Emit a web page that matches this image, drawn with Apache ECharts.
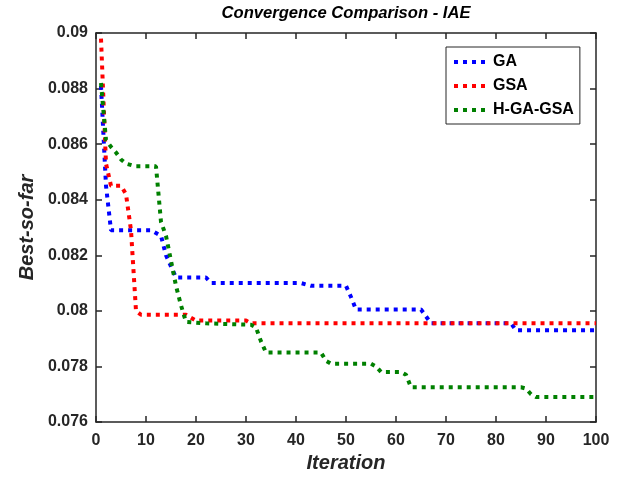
<!DOCTYPE html>
<html>
<head>
<meta charset="utf-8">
<script src="https://cdn.jsdelivr.net/npm/echarts@6/dist/echarts.min.js"></script>
<style>
  html, body { margin: 0; padding: 0; background: #fff; }
  #chart { width: 619px; height: 482px; }
</style>
</head>
<body>
<div id="chart"></div>
<script>
// breakpoints (iteration, best-so-far)
var gaIter = [1, 2, 3, 11, 12, 13, 14, 15, 16, 22, 23, 41, 42, 43, 50, 51, 52, 65, 66, 67, 83, 84, 100];
var gaVal = [0.0881, 0.0845, 0.0829, 0.0829, 0.0828, 0.0827, 0.0820, 0.0816, 0.0812, 0.0812, 0.0810, 0.0810,
  0.08095, 0.0809, 0.0809, 0.0805, 0.08005, 0.08005, 0.0798, 0.07955, 0.07955, 0.0793, 0.0793];

var gsaIter = [1, 2, 3, 5, 6, 7, 8, 9, 18, 19, 20, 30, 31, 100];
var gsaVal = [0.0898, 0.0853, 0.0845, 0.0845, 0.0842, 0.0829, 0.0800, 0.07986, 0.07986, 0.07975, 0.07965,
  0.07965, 0.07955, 0.07955];

var hybIter = [1, 2, 3, 4, 5, 6, 8, 12, 13, 14, 15, 16, 17, 18, 22, 31, 32, 33, 34, 45, 46, 47, 54, 55, 56, 57,
  61, 62, 63, 85, 86, 87, 88, 100];
var hybVal = [0.0882, 0.08615, 0.0859, 0.0857, 0.08545, 0.0853, 0.0852, 0.0852, 0.0832, 0.0827, 0.0818, 0.0809,
  0.0802, 0.0796, 0.07955, 0.0795, 0.0794, 0.0789, 0.0785, 0.0785, 0.0782, 0.0781, 0.0781, 0.0781, 0.0780,
  0.0778, 0.0778, 0.0777, 0.07725, 0.07725, 0.0772, 0.0770, 0.0769, 0.0769];

var seriesNames = ["GA", "GSA", "H-GA-GSA"];
var seriesColors = ["#0000ff", "#ff0000", "#008000"];

function pairs(xs, ys) {
  return xs.map(function (x, i) { return [x, ys[i]]; });
}

var font = "'Liberation Sans', Arial, sans-serif";
var axisColor = "#262626";

function frameAxis(pos, showLabels) {
  var ax = {
    type: "value",
    position: pos,
    axisLine: { show: true, onZero: false, lineStyle: { color: axisColor, width: 1.5 } },
    axisTick: { show: true, inside: true, length: 6, lineStyle: { color: axisColor, width: 1.5 } },
    axisLabel: { show: showLabels, color: axisColor, fontFamily: font, fontWeight: "bold", fontSize: 16 },
    splitLine: { show: false }
  };
  return ax;
}

var xBottom = frameAxis("bottom", true);
xBottom.min = 0; xBottom.max = 100; xBottom.interval = 10;
xBottom.axisLabel.margin = 11;
xBottom.name = "Iteration";
xBottom.nameLocation = "middle";
xBottom.nameGap = 28;
xBottom.nameTextStyle = { color: axisColor, fontFamily: font, fontWeight: "bold", fontStyle: "italic", fontSize: 20 };

var xTop = frameAxis("top", false);
xTop.min = 0; xTop.max = 100; xTop.interval = 10;

var yLeft = frameAxis("left", true);
yLeft.min = 0.076; yLeft.max = 0.09; yLeft.interval = 0.002;
yLeft.axisLabel.margin = 8;
yLeft.axisLabel.formatter = function (v) { return String(parseFloat(v.toFixed(3))); };
yLeft.name = "Best-so-far";
yLeft.nameLocation = "middle";
yLeft.nameGap = 59;
yLeft.nameTextStyle = { color: axisColor, fontFamily: font, fontWeight: "bold", fontStyle: "italic", fontSize: 20 };

var yRight = frameAxis("right", false);
yRight.min = 0.076; yRight.max = 0.09; yRight.interval = 0.002;

var allData = [pairs(gaIter, gaVal), pairs(gsaIter, gsaVal), pairs(hybIter, hybVal)];

var chart = echarts.init(document.getElementById("chart"), null, { renderer: "canvas" });
chart.setOption({
  animation: false,
  backgroundColor: "#ffffff",
  title: {
    text: "Convergence Comparison - IAE",
    left: 346,
    top: 5,
    textAlign: "center",
    padding: 0,
    textStyle: { color: "#000", fontFamily: font, fontWeight: "bold", fontStyle: "italic", fontSize: 16.6 }
  },
  grid: { left: 96, right: 23, top: 33, bottom: 60, containLabel: false },
  legend: {
    data: seriesNames,
    orient: "vertical",
    left: 446,
    top: 47,
    padding: [7, 6, 6, 6],
    itemWidth: 32,
    itemHeight: 14,
    itemGap: 8,
    backgroundColor: "#fff",
    borderColor: axisColor,
    borderWidth: 1,
    borderRadius: 0,
    // hide the default circle marker, keep only the dotted line sample
    itemStyle: { opacity: 0 },
    lineStyle: { width: 4, type: [4, 5], cap: "butt" },
    textStyle: { color: "#000", fontFamily: font, fontWeight: "bold", fontSize: 16, padding: [0, 0, 0, 2] }
  },
  xAxis: [xBottom, xTop],
  yAxis: [yLeft, yRight],
  series: seriesNames.map(function (name, i) {
    return {
      name: name,
      type: "line",
      xAxisIndex: 0,
      yAxisIndex: 0,
      data: allData[i],
      symbol: "none",
      color: seriesColors[i],
      lineStyle: { color: seriesColors[i], width: 4, type: [4, 5], cap: "butt" }
    };
  })
});
</script>
</body>
</html>
